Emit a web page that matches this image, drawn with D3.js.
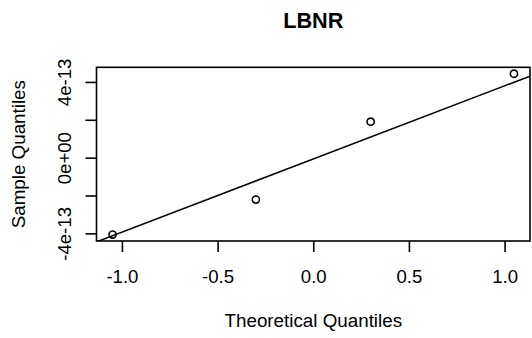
<!DOCTYPE html>
<html>
<head>
<meta charset="utf-8">
<script src="https://cdn.jsdelivr.net/npm/d3@7"></script>
<style>
body { margin: 0; background: #fff; }
svg { display: block; font-family: "Liberation Sans", Arial, sans-serif; }
</style>
</head>
<body>
<svg id="chart" width="532" height="338"></svg>
<script>
// values
var chartTitle = "LBNR";
var theoretical = [-1.049, -0.300, 0.300, 1.049];
var sample = [-4.063e-13, -2.216e-13, 1.900e-13, 4.433e-13];
var xTicks = [-1.0, -0.5, 0.0, 0.5, 1.0];
var yTicks = [-4e-13, -2e-13, 0, 2e-13, 4e-13];
var yTickLabels = ["-4e-13", "", "0e+00", "", "4e-13"];

var svg = d3.select("#chart");

// R style: pad the data range by 4% on each side
function padded(v) {
    var e = d3.extent(v), d = (e[1] - e[0]) * 0.04;
    return [e[0] - d, e[1] + d];
}

var xScale = d3.scaleLinear()
    .domain(padded(theoretical))
    .range([96.5, 530]);

var yScale = d3.scaleLinear()
    .domain(padded(sample))
    .range([241, 67.3]);

//qqline through the first and third quartiles
var sorted = sample.slice().sort(d3.ascending);
var q1 = d3.quantileSorted(sorted, 0.25);
var q3 = d3.quantileSorted(sorted, 0.75);
var z = 0.6744898;
var slope = (q3 - q1) / (2 * z);
var intercept = q1 + slope * z;

svg.append("defs").append("clipPath").attr("id", "clip")
    .append("rect")
    .attr("x", 96.5).attr("y", 67.3)
    .attr("width", 530 - 96.5).attr("height", 241 - 67.3);

var xd = xScale.domain();
svg.append("line")
    .attr("clip-path", "url(#clip)")
    .attr("x1", xScale(xd[0])).attr("y1", yScale(intercept + slope * xd[0]))
    .attr("x2", xScale(xd[1])).attr("y2", yScale(intercept + slope * xd[1]))
    .attr("stroke", "#000")
    .attr("stroke-width", 1.5);

svg.selectAll("circle.pt")
    .data(sample)
    .enter().append("circle")
    .attr("class", "pt")
    .attr("cx", function (d, i) { return xScale(theoretical[i]); })
    .attr("cy", function (d) { return yScale(d); })
    .attr("r", 3.6)
    .attr("fill", "none")
    .attr("stroke", "#000")
    .attr("stroke-width", 1.6);

//box round the plot
svg.append("rect")
    .attr("x", 96.5).attr("y", 67.3)
    .attr("width", 530 - 96.5).attr("height", 241 - 67.3)
    .attr("fill", "none")
    .attr("stroke", "#000")
    .attr("stroke-width", 1.6);

//bottom axis
var baxis = d3.axisBottom(xScale)
    .tickValues(xTicks)
    .tickSize(11)
    .tickFormat(function (d) { return d3.format(".1f")(d).replace("\u2212", "-"); });

var bx = svg.append("g")
    .attr("transform", "translate(0,241)")
    .call(baxis);
bx.select(".domain").remove();
bx.selectAll("line").attr("stroke-width", 1.6);
bx.selectAll("text")
    .attr("y", 42.3).attr("dy", null)
    .attr("font-size", "18.6px")
    .attr("font-family", "Liberation Sans, Arial, sans-serif")
    .attr("fill", "#000");

//left axis, labels turned sideways
var laxis = d3.axisLeft(yScale)
    .tickValues(yTicks)
    .tickSize(11)
    .tickFormat(function (d, i) { return yTickLabels[i]; });

var ly = svg.append("g")
    .attr("transform", "translate(96.5,0)")
    .call(laxis);
ly.select(".domain").remove();
ly.selectAll("line").attr("stroke-width", 1.6);
ly.selectAll("text")
    .attr("x", null).attr("dy", null)
    .attr("transform", "translate(-25.5,0) rotate(-90)")
    .attr("text-anchor", "middle")
    .attr("font-size", "18.6px")
    .attr("font-family", "Liberation Sans, Arial, sans-serif")
    .attr("fill", "#000");

//titles
svg.append("text")
    .attr("x", 313.3).attr("y", 28.3)
    .attr("text-anchor", "middle")
    .attr("font-size", "21.7px")
    .attr("font-weight", "bold")
    .text(chartTitle);

svg.append("text")
    .attr("x", 313.3).attr("y", 326.7)
    .attr("text-anchor", "middle")
    .attr("font-size", "18.8px")
    .text("Theoretical Quantiles");

svg.append("text")
    .attr("transform", "translate(25,154.2) rotate(-90)")
    .attr("text-anchor", "middle")
    .attr("font-size", "18.8px")
    .text("Sample Quantiles");
</script>
</body>
</html>
